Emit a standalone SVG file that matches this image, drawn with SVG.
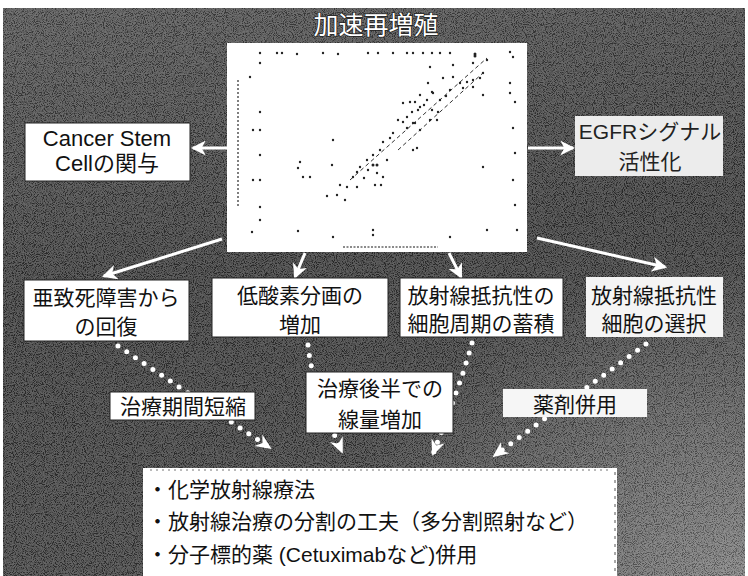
<svg xmlns="http://www.w3.org/2000/svg" width="748" height="576" viewBox="0 0 748 576">
<style>
.box{fill:#fff;stroke:#222;stroke-width:1}
.t{font-family:"Liberation Sans","Noto Sans CJK JP",sans-serif;font-size:21px;fill:#111;text-anchor:middle}
.tl{font-family:"Liberation Sans","Noto Sans CJK JP",sans-serif;font-size:21px;fill:#111}
.title{font-family:"Noto Sans CJK JP",sans-serif;font-size:25px;fill:#fff;text-anchor:middle;stroke:#222;stroke-width:1.5;paint-order:stroke}
.arr{stroke:#fff;stroke-width:3;fill:none;marker-end:url(#ah)}
.dot{stroke:#fff;stroke-width:5;stroke-linecap:round;stroke-dasharray:0 10.5;fill:none}
.d{fill:#222}
</style>
<defs>
<marker id="ah" viewBox="0 0 14 14" refX="12" refY="7" markerWidth="15" markerHeight="15" markerUnits="userSpaceOnUse" orient="auto"><path d="M0,0 L14,7 L0,14 L4,7 z" fill="#fff"/></marker>
<marker id="dh" viewBox="0 0 16 16" refX="14" refY="8" markerWidth="16" markerHeight="16" markerUnits="userSpaceOnUse" orient="auto"><path d="M0,1 L16,8 L0,15 L5,8 z" fill="#fff"/></marker>
<linearGradient id="bg" x1="0" y1="0" x2="0.2" y2="1">
<stop offset="0" stop-color="#4c4c4c"/>
<stop offset="0.5" stop-color="#333"/>
<stop offset="1" stop-color="#3a3a3a"/>
</linearGradient>
<radialGradient id="br" cx="1" cy="1" r="0.55">
<stop offset="0" stop-color="#8a8a8a" stop-opacity="0.8"/>
<stop offset="1" stop-color="#8a8a8a" stop-opacity="0"/>
</radialGradient>
<filter id="noise" x="0" y="0" width="100%" height="100%">
<feTurbulence type="fractalNoise" baseFrequency="1.1" numOctaves="1" seed="5"/>
<feColorMatrix type="matrix" values="4 0 0 0 -1.5 4 0 0 0 -1.5 4 0 0 0 -1.5 0 0 0 0 1"/>
</filter>
</defs>
<rect width="748" height="576" fill="#fff"/>
<g id="background">
<rect x="3" y="8" width="742" height="568" fill="url(#bg)"/>
<rect x="3" y="8" width="742" height="568" fill="url(#br)"/>
<rect x="3" y="8" width="742" height="568" filter="url(#noise)" opacity="0.22"/>
</g>
<g id="title"><text class="title" x="376" y="34">加速再増殖</text></g>
<g id="chart">
<rect x="227" y="43" width="300" height="209" fill="#fff"/>
<line x1="238" y1="80" x2="238" y2="207" stroke="#555" stroke-width="1.5" stroke-dasharray="2 2"/>
<line x1="343" y1="247" x2="438" y2="247" stroke="#666" stroke-width="1.5" stroke-dasharray="2 1.5"/>
<line x1="350" y1="180" x2="487" y2="58" stroke="#333" stroke-width="1" stroke-dasharray="4 3"/>
<line x1="398" y1="150" x2="484" y2="72" stroke="#333" stroke-width="1" stroke-dasharray="4 3"/>
<g>
<circle class="d" cx="260" cy="53" r="1.2"/><circle class="d" cx="277" cy="53" r="1.2"/><circle class="d" cx="282" cy="53" r="1.2"/><circle class="d" cx="297" cy="54" r="1.2"/><circle class="d" cx="323" cy="53" r="1.2"/><circle class="d" cx="338" cy="54" r="1.2"/><circle class="d" cx="368" cy="53" r="1.2"/><circle class="d" cx="378" cy="53" r="1.2"/><circle class="d" cx="393" cy="53" r="1.2"/><circle class="d" cx="407" cy="53" r="1.2"/><circle class="d" cx="413" cy="53" r="1.2"/><circle class="d" cx="423" cy="53" r="1.2"/><circle class="d" cx="432" cy="53" r="1.2"/><circle class="d" cx="440" cy="53" r="1.2"/><circle class="d" cx="450" cy="53" r="1.2"/><circle class="d" cx="475" cy="54" r="1.5"/>
<circle class="d" cx="475" cy="56" r="1.5"/><circle class="d" cx="473" cy="63" r="1.2"/><circle class="d" cx="487" cy="60" r="1.2"/><circle class="d" cx="483" cy="73" r="1.2"/><circle class="d" cx="453" cy="77" r="1.2"/><circle class="d" cx="443" cy="78" r="1.2"/><circle class="d" cx="460" cy="83" r="1.2"/><circle class="d" cx="467" cy="82" r="1.2"/><circle class="d" cx="473" cy="87" r="1.2"/><circle class="d" cx="480" cy="78" r="1.2"/><circle class="d" cx="450" cy="90" r="1.2"/><circle class="d" cx="433" cy="93" r="1.2"/><circle class="d" cx="427" cy="100" r="1.2"/><circle class="d" cx="420" cy="107" r="1.2"/><circle class="d" cx="412" cy="112" r="1.2"/><circle class="d" cx="407" cy="117" r="1.2"/><circle class="d" cx="403" cy="122" r="1.2"/><circle class="d" cx="413" cy="123" r="1.2"/><circle class="d" cx="420" cy="130" r="1.2"/><circle class="d" cx="407" cy="128" r="1.2"/><circle class="d" cx="393" cy="133" r="1.2"/><circle class="d" cx="390" cy="138" r="1.2"/><circle class="d" cx="383" cy="142" r="1.2"/><circle class="d" cx="380" cy="150" r="1.2"/><circle class="d" cx="373" cy="155" r="1.2"/><circle class="d" cx="367" cy="160" r="1.2"/><circle class="d" cx="360" cy="167" r="1.2"/><circle class="d" cx="357" cy="172" r="1.2"/><circle class="d" cx="353" cy="177" r="1.2"/><circle class="d" cx="347" cy="187" r="1.2"/><circle class="d" cx="340" cy="185" r="1.2"/><circle class="d" cx="357" cy="187" r="1.2"/><circle class="d" cx="373" cy="165" r="1.5"/><circle class="d" cx="377" cy="165" r="1.5"/><circle class="d" cx="377" cy="173" r="1.2"/><circle class="d" cx="383" cy="177" r="1.2"/><circle class="d" cx="375" cy="185" r="1.2"/><circle class="d" cx="381" cy="185" r="1.2"/><circle class="d" cx="337" cy="195" r="1.2"/><circle class="d" cx="327" cy="196" r="1.2"/><circle class="d" cx="345" cy="200" r="1.2"/><circle class="d" cx="300" cy="162" r="1.2"/><circle class="d" cx="298" cy="168" r="1.2"/><circle class="d" cx="303" cy="177" r="1.2"/><circle class="d" cx="310" cy="177" r="1.2"/><circle class="d" cx="333" cy="140" r="1.2"/><circle class="d" cx="332" cy="165" r="1.2"/><circle class="d" cx="253" cy="130" r="1.2"/><circle class="d" cx="260" cy="130" r="1.2"/><circle class="d" cx="260" cy="112" r="1.2"/><circle class="d" cx="260" cy="155" r="1.2"/><circle class="d" cx="253" cy="180" r="1.2"/><circle class="d" cx="260" cy="180" r="1.2"/><circle class="d" cx="250" cy="77" r="1.2"/><circle class="d" cx="260" cy="63" r="1.2"/><circle class="d" cx="428" cy="83" r="1.2"/><circle class="d" cx="432" cy="92" r="1.2"/><circle class="d" cx="415" cy="102" r="1.2"/><circle class="d" cx="410" cy="102" r="1.2"/><circle class="d" cx="403" cy="103" r="1.2"/><circle class="d" cx="420" cy="95" r="1.2"/><circle class="d" cx="432" cy="110" r="1.2"/><circle class="d" cx="438" cy="112" r="1.2"/><circle class="d" cx="437" cy="120" r="1.2"/><circle class="d" cx="430" cy="120" r="1.2"/><circle class="d" cx="417" cy="148" r="1.2"/><circle class="d" cx="413" cy="150" r="1.2"/><circle class="d" cx="415" cy="123" r="1.2"/><circle class="d" cx="453" cy="65" r="1.2"/><circle class="d" cx="430" cy="67" r="1.2"/><circle class="d" cx="510" cy="52" r="1.2"/><circle class="d" cx="513" cy="57" r="1.2"/><circle class="d" cx="510" cy="83" r="1.2"/><circle class="d" cx="510" cy="93" r="1.2"/><circle class="d" cx="515" cy="102" r="1.2"/><circle class="d" cx="513" cy="128" r="1.2"/><circle class="d" cx="515" cy="153" r="1.2"/><circle class="d" cx="513" cy="180" r="1.2"/><circle class="d" cx="515" cy="205" r="1.2"/><circle class="d" cx="517" cy="230" r="1.2"/><circle class="d" cx="487" cy="230" r="1.2"/><circle class="d" cx="450" cy="237" r="1.2"/><circle class="d" cx="373" cy="230" r="1.2"/><circle class="d" cx="373" cy="235" r="1.2"/><circle class="d" cx="333" cy="237" r="1.2"/><circle class="d" cx="298" cy="231" r="1.2"/><circle class="d" cx="252" cy="232" r="1.2"/><circle class="d" cx="260" cy="207" r="1.2"/><circle class="d" cx="260" cy="220" r="1.2"/><circle class="d" cx="483" cy="167" r="1.2"/><circle class="d" cx="483" cy="95" r="1.2"/><circle class="d" cx="473" cy="80" r="1.2"/><circle class="d" cx="418" cy="110" r="1.2"/><circle class="d" cx="424" cy="105" r="1.2"/><circle class="d" cx="398" cy="120" r="1.2"/><circle class="d" cx="463" cy="88" r="1.2"/><circle class="d" cx="446" cy="96" r="1.2"/><circle class="d" cx="440" cy="100" r="1.2"/><circle class="d" cx="368" cy="170" r="1.2"/><circle class="d" cx="364" cy="178" r="1.2"/><circle class="d" cx="387" cy="160" r="1.2"/>
</g>
</g>
<g id="connectors">
<line class="arr" x1="227" y1="148" x2="193" y2="148"/>
<line class="arr" x1="528" y1="148" x2="573" y2="148"/>
<line class="arr" x1="222" y1="239" x2="104" y2="276"/>
<line class="arr" x1="305" y1="253" x2="295" y2="277"/>
<line class="arr" x1="449" y1="253" x2="461" y2="277"/>
<line class="arr" x1="537" y1="238" x2="665" y2="267"/>
<path class="dot" d="M118,346 L270,448" marker-end="url(#dh)"/>
<path class="dot" d="M308,345 C312,385 330,425 342,452" marker-end="url(#dh)"/>
<path class="dot" d="M472,343 C462,380 446,420 433,454" marker-end="url(#dh)"/>
<path class="dot" d="M646,344 L494,456" marker-end="url(#dh)"/>
</g>
<g id="node-csc">
<rect class="box" x="25" y="123" width="165" height="58"/>
<text class="t" x="107" y="146" style="font-size:22px">Cancer Stem</text>
<text class="t" x="107" y="171" style="font-size:22px">Cellの関与</text>
</g>
<g id="node-egfr">
<rect x="575" y="116" width="148" height="60" fill="#ececec"/>
<text class="t" x="650" y="139" style="fill:#222">EGFRシグナル</text>
<text class="t" x="650" y="169" style="fill:#222">活性化</text>
</g>
<g id="node-sld">
<rect class="box" x="24" y="280" width="165" height="61"/>
<text class="t" x="106" y="305">亜致死障害から</text>
<text class="t" x="106" y="334">の回復</text>
</g>
<g id="node-hypoxia">
<rect class="box" x="212" y="278" width="176" height="59"/>
<text class="t" x="300" y="303">低酸素分画の</text>
<text class="t" x="300" y="332">増加</text>
</g>
<g id="node-cellcycle">
<rect class="box" x="400" y="278" width="163" height="59"/>
<text class="t" x="481" y="303">放射線抵抗性の</text>
<text class="t" x="481" y="331">細胞周期の蓄積</text>
</g>
<g id="node-select">
<rect x="586" y="277" width="137" height="60" fill="#f4f4f4"/>
<text class="t" x="654" y="303">放射線抵抗性</text>
<text class="t" x="654" y="331">細胞の選択</text>
</g>
<g id="node-shorten">
<rect class="box" x="110" y="392" width="145" height="28"/>
<text class="t" x="183" y="414">治療期間短縮</text>
</g>
<g id="node-dose">
<rect class="box" x="306" y="372" width="147" height="61"/>
<text class="t" x="380" y="396">治療後半での</text>
<text class="t" x="380" y="427">線量増加</text>
</g>
<g id="node-drug">
<rect x="503" y="389" width="144" height="28" fill="#f6f6f6"/>
<text class="t" x="575" y="412">薬剤併用</text>
</g>
<g id="node-solutions">
<rect x="143" y="468" width="474" height="110" fill="#fff"/>
<line x1="150" y1="470" x2="612" y2="470" stroke="#777" stroke-width="1" stroke-dasharray="2 4"/>
<line x1="615" y1="472" x2="615" y2="574" stroke="#555" stroke-width="1" stroke-dasharray="3 5"/>
<text class="tl" x="147" y="497">・化学放射線療法</text>
<text class="tl" x="147" y="529">・放射線治療の分割の工夫（多分割照射など）</text>
<text class="tl" x="147" y="562">・分子標的薬 (Cetuximabなど)併用</text>
</g>
</svg>
